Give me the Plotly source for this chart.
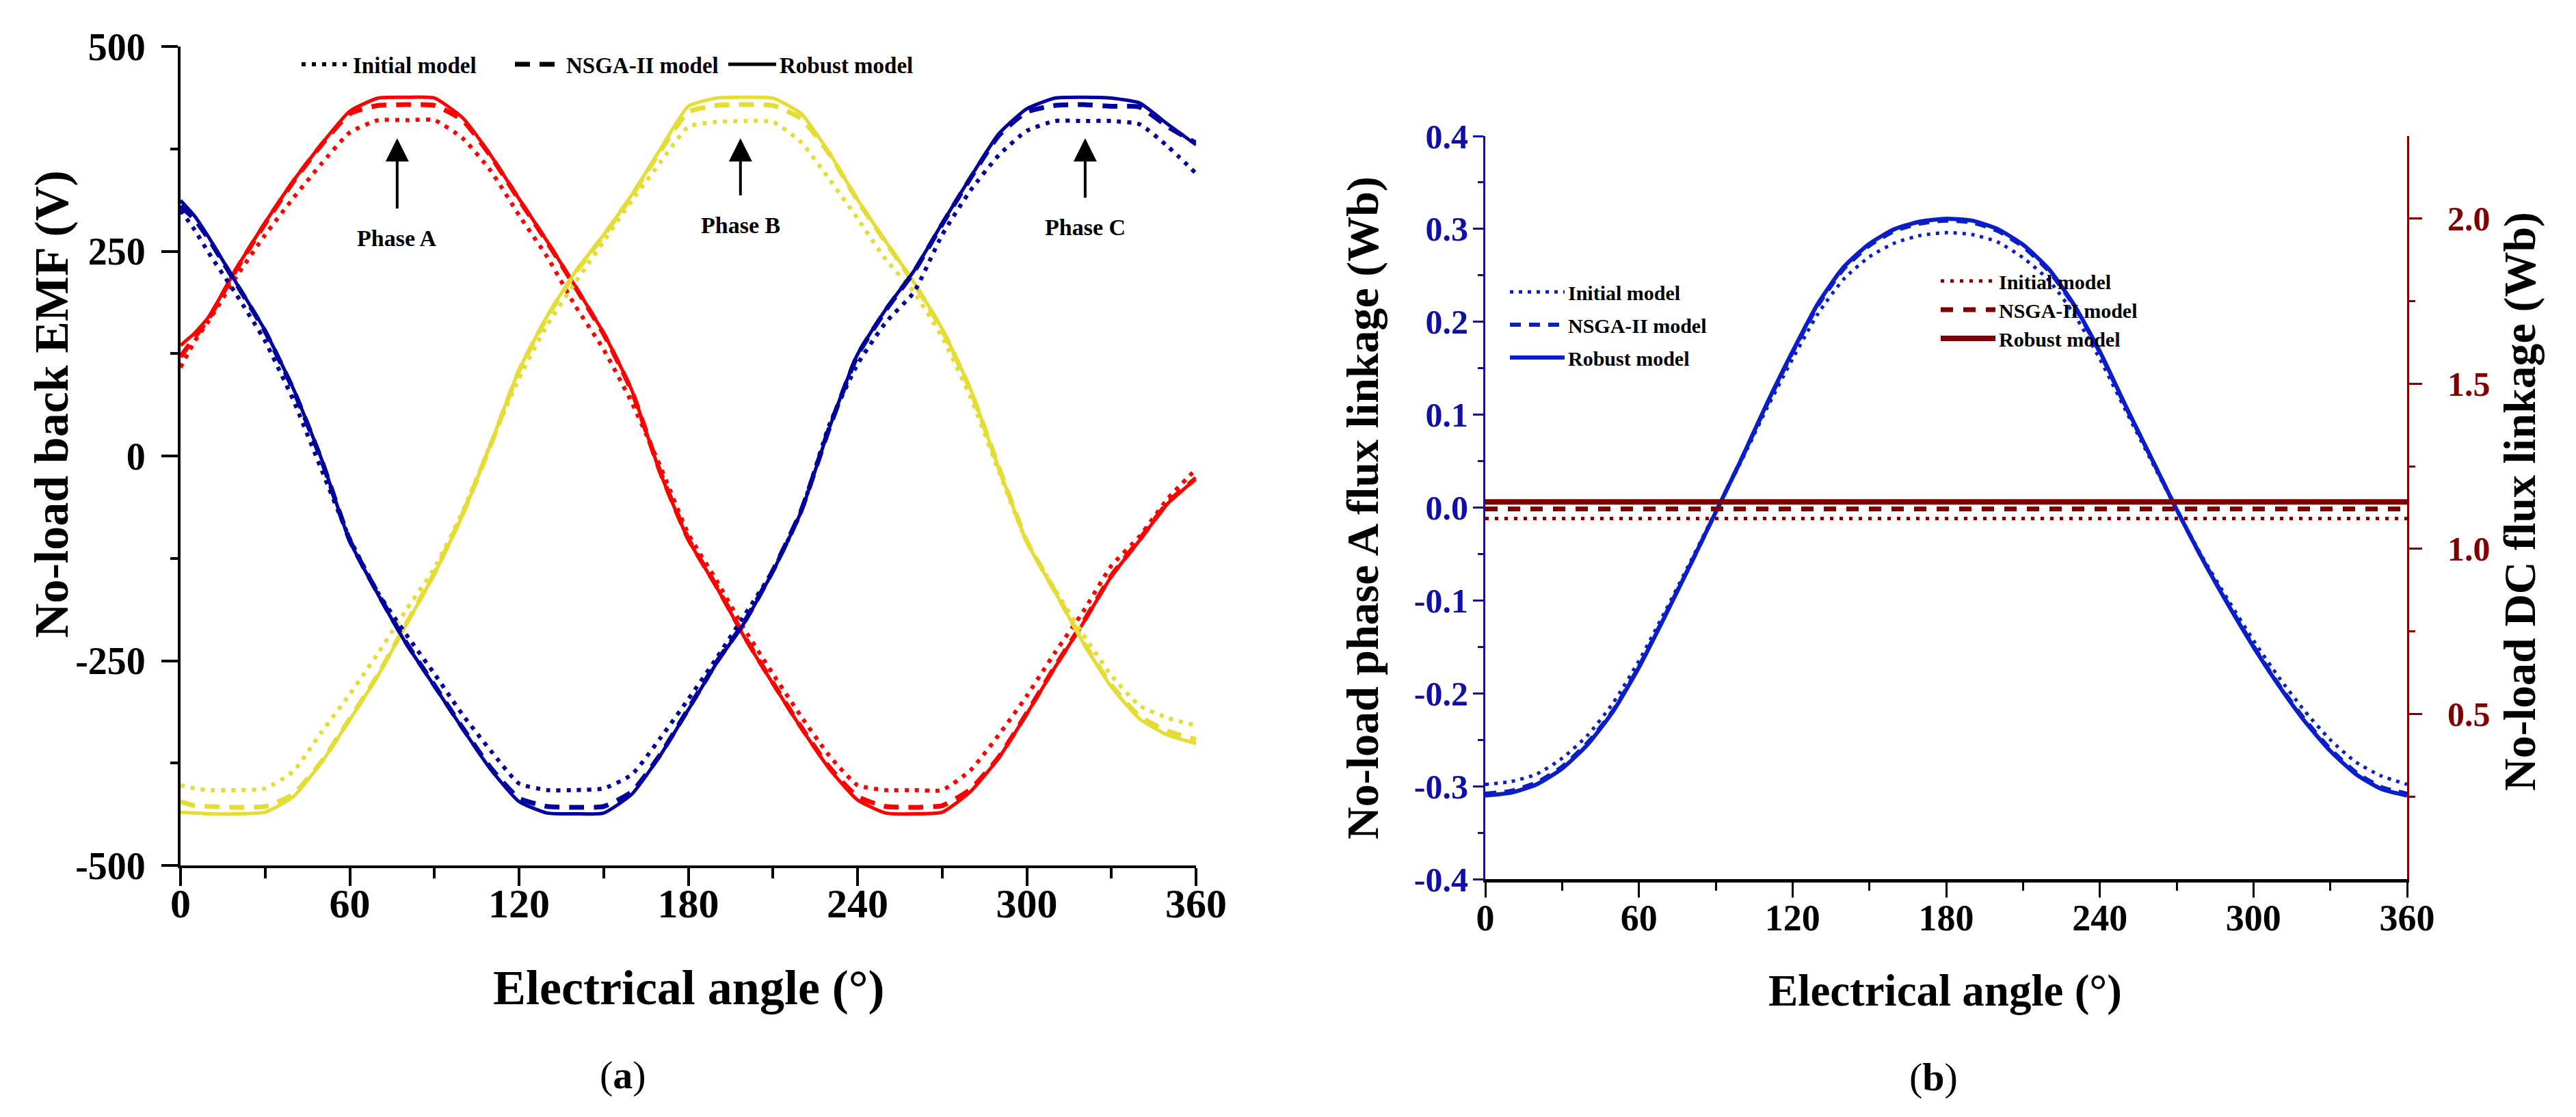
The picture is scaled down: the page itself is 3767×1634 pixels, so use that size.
import plotly.graph_objects as go

# ---------------- data: panel (a) no-load back EMF (V) ----------------
ANGLE_A = [0, 5, 10, 20, 30, 40, 50, 60, 70, 80, 90, 100, 110, 120, 130, 140, 150, 160, 170, 180,
           190, 200, 210, 220, 230, 240, 250, 260, 270, 280, 290, 300, 310, 320, 330, 340, 350, 360]

A_INITIAL = [108, 140, 165, 220, 270, 315, 357, 395, 410, 410, 410, 388, 348, 294, 243, 183, 130, 65, -12, -95,
             -152, -212, -266, -318, -366, -402, -408, -408, -408, -384, -341, -293, -240, -190, -134, -98, -52, -16]
A_NSGA = [121, 145, 168, 229, 284, 335, 380, 418, 428, 429, 428, 410, 366, 313, 261, 206, 149, 79, -19, -101,
          -159, -221, -277, -331, -380, -416, -428, -429, -427, -407, -368, -314, -257, -203, -146, -102, -57, -27]
A_ROBUST = [135, 150, 170, 230, 285, 336, 381, 421, 437, 438, 437, 413, 367, 314, 262, 207, 150, 80, -20, -102,
            -160, -222, -278, -332, -382, -420, -436, -437, -435, -410, -369, -315, -258, -204, -147, -103, -58, -28]

B_INITIAL = [-402, -406, -408, -408, -406, -385, -337, -291, -241, -188, -137, -68, 15, 95, 160, 212, 262, 312, 358, 402,
             408, 409, 408, 383, 338, 290, 240, 200, 145, 72, -18, -105, -163, -218, -268, -305, -320, -329]
B_NSGA = [-422, -427, -428, -429, -428, -413, -373, -321, -267, -205, -143, -71, 14, 104, 170, 224, 269, 318, 372, 420,
          428, 429, 428, 412, 369, 312, 261, 211, 154, 81, -13, -104, -165, -227, -280, -318, -336, -346]
B_ROBUST = [-435, -436, -437, -437, -435, -416, -374, -322, -268, -206, -144, -72, 15, 105, 171, 225, 270, 319, 374, 427,
            437, 438, 437, 418, 370, 313, 262, 212, 155, 82, -14, -105, -166, -228, -282, -321, -341, -351]

C_INITIAL = [300, 276, 248, 196, 140, 68, -17, -101, -167, -218, -266, -316, -360, -400, -408, -408, -406, -389, -345, -297,
             -247, -194, -140, -68, 38, 112, 163, 200, 270, 324, 367, 397, 409, 409, 409, 405, 378, 345]
C_NSGA = [305, 289, 265, 209, 152, 81, -5, -103, -168, -228, -280, -332, -381, -418, -428, -429, -428, -410, -365, -309,
          -252, -202, -140, -67, 34, 123, 178, 225, 283, 339, 391, 420, 428, 429, 427, 426, 402, 382]
C_ROBUST = [312, 293, 267, 210, 153, 82, -4, -104, -169, -229, -281, -333, -383, -422, -436, -437, -436, -413, -366, -310,
            -253, -203, -141, -68, 34, 124, 179, 226, 284, 340, 393, 424, 437, 438, 437, 431, 405, 380]

# ---------------- data: panel (b) flux linkage (Wb) ----------------
ANGLE_B = [0, 10, 20, 30, 40, 50, 60, 70, 80, 90, 100, 110, 120, 130, 140, 150, 160, 170, 180,
           190, 200, 210, 220, 230, 240, 250, 260, 270, 280, 290, 300, 310, 320, 330, 340, 350, 360]

PSI_INITIAL = [-0.298, -0.295, -0.287, -0.270, -0.245, -0.210, -0.165, -0.113, -0.059, -0.004, 0.050, 0.107, 0.160,
               0.209, 0.246, 0.270, 0.285, 0.293, 0.296, 0.294, 0.286, 0.269, 0.245, 0.208, 0.160, 0.105, 0.051,
               -0.002, -0.053, -0.099, -0.143, -0.183, -0.219, -0.250, -0.274, -0.289, -0.298]
PSI_NSGA = [-0.308, -0.305, -0.296, -0.279, -0.253, -0.218, -0.171, -0.117, -0.062, -0.005, 0.052, 0.111, 0.167,
            0.218, 0.257, 0.282, 0.298, 0.306, 0.309, 0.307, 0.298, 0.281, 0.255, 0.217, 0.167, 0.109, 0.054,
            -0.002, -0.055, -0.103, -0.149, -0.191, -0.228, -0.260, -0.285, -0.301, -0.308]
PSI_ROBUST = [-0.310, -0.307, -0.298, -0.281, -0.255, -0.219, -0.172, -0.118, -0.062, -0.005, 0.052, 0.112, 0.168,
              0.220, 0.259, 0.284, 0.300, 0.308, 0.311, 0.309, 0.300, 0.283, 0.257, 0.218, 0.168, 0.110, 0.054,
              -0.002, -0.055, -0.104, -0.150, -0.192, -0.230, -0.262, -0.287, -0.303, -0.310]

DC_ANGLE = [0, 360]
DC_INITIAL = [1.092, 1.092]
DC_NSGA = [1.121, 1.121]
DC_ROBUST = [1.142, 1.142]

MODEL_NAMES = ["Initial model", "NSGA-II model", "Robust model"]

X_TICKS = [0, 60, 120, 180, 240, 300, 360]
EMF_TICKS = [-500, -250, 0, 250, 500]
PSI_TICKS = [-0.4, -0.3, -0.2, -0.1, 0.0, 0.1, 0.2, 0.3, 0.4]
DC_TICKS = [0.5, 1.0, 1.5, 2.0]

PHASES = [("Phase A", 76.8), ("Phase B", 198.5), ("Phase C", 320.7)]

# ---------------- styling ----------------
FONT = "Liberation Serif"
RED = "#ff0000"
YELLOW = "#e6dc36"
NAVY = "#00009c"
BLUE = "#0a1ec8"
DARKRED = "#800000"
TICKBLUE = "#1010a8"

W, H = 3767, 1634

DOT_A = "6px,9px"
DASH_A = "22px,14px"

fig = go.Figure()

phase_sets = [
    (RED, A_INITIAL, A_NSGA, A_ROBUST),
    (YELLOW, B_INITIAL, B_NSGA, B_ROBUST),
    (NAVY, C_INITIAL, C_NSGA, C_ROBUST),
]
for color, ini, nsga, rob in phase_sets:
    fig.add_trace(go.Scatter(x=ANGLE_A, y=ini, mode="lines", showlegend=False,
                             line=dict(color=color, width=6, dash=DOT_A, shape="spline", smoothing=0.5),
                             xaxis="x", yaxis="y"))
    fig.add_trace(go.Scatter(x=ANGLE_A, y=nsga, mode="lines", showlegend=False,
                             line=dict(color=color, width=7, dash=DASH_A, shape="spline", smoothing=0.5),
                             xaxis="x", yaxis="y"))
    fig.add_trace(go.Scatter(x=ANGLE_A, y=rob, mode="lines", showlegend=False,
                             line=dict(color=color, width=5, shape="spline", smoothing=0.5),
                             xaxis="x", yaxis="y"))

# black legend keys for panel (a)
for name, dash, width in zip(MODEL_NAMES, [DOT_A, DASH_A, "solid"], [6, 7, 5]):
    fig.add_trace(go.Scatter(x=[None], y=[None], mode="lines", name=name, legend="legend",
                             line=dict(color="black", width=width, dash=dash),
                             xaxis="x", yaxis="y"))

# panel (b): phase A flux linkage (left axis)
for name, vals, dash, width in zip(MODEL_NAMES, [PSI_INITIAL, PSI_NSGA, PSI_ROBUST],
                                   ["5px,8px", "16px,12px", "solid"], [5, 6, 6]):
    fig.add_trace(go.Scatter(x=ANGLE_B, y=vals, mode="lines", name=name, legend="legend2",
                             legendgroup="b1" + name,
                             line=dict(color=BLUE, width=width, dash=dash, shape="spline", smoothing=0.6),
                             xaxis="x2", yaxis="y2"))

# panel (b): DC flux linkage (right axis)
for name, vals, dash, width in zip(MODEL_NAMES, [DC_INITIAL, DC_NSGA, DC_ROBUST],
                                   ["5px,9px", "18px,15px", "solid"], [5, 7, 8]):
    fig.add_trace(go.Scatter(x=DC_ANGLE, y=vals, mode="lines", name=name, legend="legend3",
                             legendgroup="dc",
                             line=dict(color=DARKRED, width=width, dash=dash),
                             xaxis="x2", yaxis="y3"))


def fnt(size, color="black"):
    return dict(family=FONT, size=size, color=color, weight="bold")


xa_dom = [256 / W, 1741 / W]
ya_dom = [1 - 1258 / H, 1 - 60 / H]
xb_dom = [2164 / W, 3512 / W]
yb_dom = [1 - 1278 / H, 1 - 191 / H]

common_x = dict(range=[0, 360], tickvals=X_TICKS, ticktext=[str(v) for v in X_TICKS],
                ticks="outside", showline=True, linecolor="black", showgrid=False, zeroline=False,
                automargin=False)

fig.update_layout(
    template="none",
    width=W, height=H, autosize=False,
    margin=dict(l=0, r=0, t=0, b=0, autoexpand=False),
    paper_bgcolor="white", plot_bgcolor="white",
    font=dict(family=FONT, color="black"),
    xaxis=dict(domain=xa_dom, anchor="y", **common_x, ticklen=26, tickwidth=4, linewidth=4,
               tickcolor="black", tickfont=fnt(60), ticklabelstandoff=-26,
               minor=dict(dtick=30, tick0=0, ticks="outside", ticklen=15, tickwidth=4, tickcolor="black")),
    yaxis=dict(domain=ya_dom, anchor="x", range=[-500, 500], tickvals=EMF_TICKS, automargin=False,
               ticktext=[str(v) for v in EMF_TICKS], ticks="outside", ticklen=24, tickwidth=4,
               tickcolor="black", showline=True, linewidth=4, linecolor="black", showgrid=False,
               zeroline=False, tickfont=fnt(56), ticklabelstandoff=12,
               minor=dict(dtick=125, tick0=0, ticks="outside", ticklen=11, tickwidth=4, tickcolor="black")),
    xaxis2=dict(domain=xb_dom, anchor="y2", **common_x, ticklen=22, tickwidth=3, linewidth=5,
                tickcolor="black", tickfont=fnt(54), ticklabelstandoff=-17,
                minor=dict(dtick=30, tick0=0, ticks="outside", ticklen=12, tickwidth=3, tickcolor="black")),
    yaxis2=dict(domain=yb_dom, anchor="x2", range=[-0.4, 0.4], tickvals=PSI_TICKS, automargin=False,
                ticktext=["%.1f" % v for v in PSI_TICKS], ticks="outside", ticklen=15, tickwidth=3,
                tickcolor=TICKBLUE, showline=True, linewidth=3, linecolor=TICKBLUE,
                showgrid=False, zeroline=False, tickfont=fnt(50, TICKBLUE), ticklabelstandoff=-3,
                minor=dict(dtick=0.05, tick0=0, ticks="outside", ticklen=8, tickwidth=3, tickcolor=TICKBLUE)),
    yaxis3=dict(overlaying="y2", anchor="x2", side="right", range=[0, 2.25], tickvals=DC_TICKS,
                automargin=False,
                ticktext=["%.1f" % v for v in DC_TICKS], ticks="outside", ticklen=19, tickwidth=3,
                tickcolor=DARKRED, showline=True, linewidth=3, linecolor=DARKRED,
                showgrid=False, zeroline=False, tickfont=fnt(50, DARKRED), ticklabelstandoff=27,
                minor=dict(tickvals=[0.25, 0.75, 1.25, 1.75], ticks="outside", ticklen=9, tickwidth=3,
                           tickcolor=DARKRED)),
    legend=dict(orientation="h", x=428 / W, y=1 - 86 / H, xanchor="left", yanchor="middle",
                font=fnt(33), bgcolor="rgba(0,0,0,0)", itemwidth=70, entrywidth=227,
                entrywidthmode="pixels"),
    legend2=dict(orientation="v", x=2195 / W, y=1 - 467 / H, xanchor="left", yanchor="middle",
                 font=fnt(30), bgcolor="rgba(0,0,0,0)", itemwidth=80, tracegroupgap=6),
    legend3=dict(orientation="v", x=2825 / W, y=1 - 445 / H, xanchor="left", yanchor="middle",
                 font=fnt(30), bgcolor="rgba(0,0,0,0)", itemwidth=80, tracegroupgap=0),
)

annotations = [
    dict(text="No-load back EMF (V)", x=67 / W, y=1 - 583 / H, textangle=-90, font=fnt(70)),
    dict(text="Electrical angle (°)", x=1000 / W, y=1 - 1437 / H, font=fnt(72)),
    dict(text="(<b>a</b>)", x=903 / W, y=1 - 1564 / H, font=dict(family=FONT, size=58, color="black")),
    dict(text="Electrical angle (°)", x=2836 / W, y=1 - 1441 / H, font=fnt(65)),
    dict(text="(<b>b</b>)", x=2819 / W, y=1 - 1567 / H, font=dict(family=FONT, size=58, color="black")),
    dict(text="No-load phase A flux linkage (Wb)", x=1985 / W, y=1 - 735 / H, textangle=-90, font=fnt(66)),
    dict(text="No-load DC flux linkage (Wb)", x=3677 / W, y=1 - 726 / H, textangle=-90, font=fnt(66)),
]
for a in annotations:
    a.update(xref="paper", yref="paper", showarrow=False, xanchor="center", yanchor="middle")

text_y = {"Phase A": 266, "Phase B": 282, "Phase C": 279}
tail_y = {"Phase A": 301, "Phase B": 317, "Phase C": 314}
for label, xpos in PHASES:
    annotations.append(dict(x=xpos, y=388, ax=xpos, ay=tail_y[label], xref="x", yref="y",
                            axref="x", ayref="y", text="", showarrow=True, arrowhead=2,
                            arrowsize=1.7, arrowwidth=4, arrowcolor="black"))
    annotations.append(dict(x=xpos, y=text_y[label], xref="x", yref="y", text=label,
                            showarrow=False, font=fnt(34)))

fig.update_layout(annotations=annotations)

fig.write_html("out.html")
